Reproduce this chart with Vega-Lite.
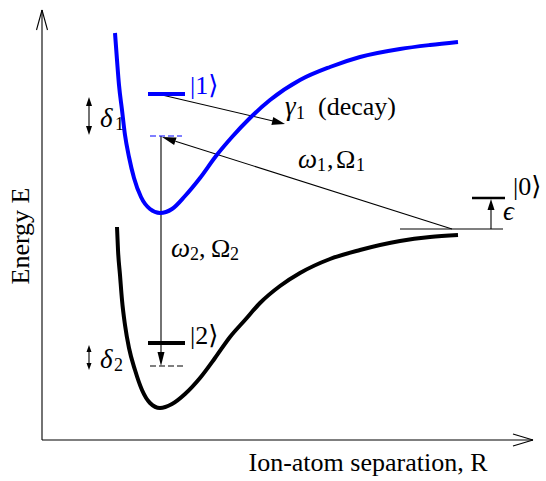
{
  "$schema": "https://vega.github.io/schema/vega-lite/v6.json",
  "width": 546,
  "height": 481,
  "autosize": {"type": "none"},
  "padding": 0,
  "background": "white",
  "config": {"view": {"stroke": null}, "text": {"font": "Liberation Serif, DejaVu Serif, serif", "color": "black"}},
  "datasets": {
    "lines": [
      {"part": "curve1", "id": "c1", "i": 0, "R": 73, "E": 407},
      {"part": "curve1", "id": "c1", "i": 1, "R": 75, "E": 380},
      {"part": "curve1", "id": "c1", "i": 2, "R": 77, "E": 355},
      {"part": "curve1", "id": "c1", "i": 3, "R": 80, "E": 330},
      {"part": "curve1", "id": "c1", "i": 4, "R": 83, "E": 305},
      {"part": "curve1", "id": "c1", "i": 5, "R": 87, "E": 283},
      {"part": "curve1", "id": "c1", "i": 6, "R": 92, "E": 262},
      {"part": "curve1", "id": "c1", "i": 7, "R": 99, "E": 243},
      {"part": "curve1", "id": "c1", "i": 8, "R": 108, "E": 231},
      {"part": "curve1", "id": "c1", "i": 9, "R": 118, "E": 227},
      {"part": "curve1", "id": "c1", "i": 10, "R": 130, "E": 231},
      {"part": "curve1", "id": "c1", "i": 11, "R": 143, "E": 244},
      {"part": "curve1", "id": "c1", "i": 12, "R": 158, "E": 262},
      {"part": "curve1", "id": "c1", "i": 13, "R": 174, "E": 284},
      {"part": "curve1", "id": "c1", "i": 14, "R": 190, "E": 303},
      {"part": "curve1", "id": "c1", "i": 15, "R": 208, "E": 322},
      {"part": "curve1", "id": "c1", "i": 16, "R": 228, "E": 340},
      {"part": "curve1", "id": "c1", "i": 17, "R": 258, "E": 360},
      {"part": "curve1", "id": "c1", "i": 18, "R": 288, "E": 373},
      {"part": "curve1", "id": "c1", "i": 19, "R": 318, "E": 383},
      {"part": "curve1", "id": "c1", "i": 20, "R": 358, "E": 391},
      {"part": "curve1", "id": "c1", "i": 21, "R": 388, "E": 395},
      {"part": "curve1", "id": "c1", "i": 22, "R": 416, "E": 398},
      {"part": "curve2", "id": "c2", "i": 0, "R": 75, "E": 213},
      {"part": "curve2", "id": "c2", "i": 1, "R": 76, "E": 190},
      {"part": "curve2", "id": "c2", "i": 2, "R": 78, "E": 165},
      {"part": "curve2", "id": "c2", "i": 3, "R": 80, "E": 140},
      {"part": "curve2", "id": "c2", "i": 4, "R": 83, "E": 115},
      {"part": "curve2", "id": "c2", "i": 5, "R": 87, "E": 92},
      {"part": "curve2", "id": "c2", "i": 6, "R": 93, "E": 70},
      {"part": "curve2", "id": "c2", "i": 7, "R": 100, "E": 50},
      {"part": "curve2", "id": "c2", "i": 8, "R": 108, "E": 37},
      {"part": "curve2", "id": "c2", "i": 9, "R": 118, "E": 32},
      {"part": "curve2", "id": "c2", "i": 10, "R": 130, "E": 36},
      {"part": "curve2", "id": "c2", "i": 11, "R": 143, "E": 46},
      {"part": "curve2", "id": "c2", "i": 12, "R": 158, "E": 62},
      {"part": "curve2", "id": "c2", "i": 13, "R": 173, "E": 82},
      {"part": "curve2", "id": "c2", "i": 14, "R": 188, "E": 103},
      {"part": "curve2", "id": "c2", "i": 15, "R": 203, "E": 120},
      {"part": "curve2", "id": "c2", "i": 16, "R": 218, "E": 137},
      {"part": "curve2", "id": "c2", "i": 17, "R": 238, "E": 154},
      {"part": "curve2", "id": "c2", "i": 18, "R": 258, "E": 167},
      {"part": "curve2", "id": "c2", "i": 19, "R": 288, "E": 181},
      {"part": "curve2", "id": "c2", "i": 20, "R": 318, "E": 190},
      {"part": "curve2", "id": "c2", "i": 21, "R": 358, "E": 199},
      {"part": "curve2", "id": "c2", "i": 22, "R": 388, "E": 203},
      {"part": "curve2", "id": "c2", "i": 23, "R": 416, "E": 205},
      {"part": "level1", "id": "l1", "i": 0, "R": 106, "E": 346},
      {"part": "level1", "id": "l1", "i": 1, "R": 143, "E": 346},
      {"part": "level2", "id": "l2", "i": 0, "R": 106, "E": 97},
      {"part": "level2", "id": "l2", "i": 1, "R": 143, "E": 97},
      {"part": "level0", "id": "l0", "i": 0, "R": 430, "E": 242},
      {"part": "level0", "id": "l0", "i": 1, "R": 463, "E": 242},
      {"part": "virtual1", "id": "v1", "i": 0, "R": 108, "E": 304},
      {"part": "virtual1", "id": "v1", "i": 1, "R": 140, "E": 304},
      {"part": "virtual2", "id": "v2", "i": 0, "R": 108, "E": 74},
      {"part": "virtual2", "id": "v2", "i": 1, "R": 141, "E": 74},
      {"part": "guide", "id": "axisY", "i": 0, "R": 0, "E": 0},
      {"part": "guide", "id": "axisY", "i": 1, "R": 0, "E": 430},
      {"part": "guide", "id": "axisYhL", "i": 0, "R": -5.5, "E": 410},
      {"part": "guide", "id": "axisYhL", "i": 1, "R": 0, "E": 430},
      {"part": "guide", "id": "axisYhR", "i": 0, "R": 0, "E": 430},
      {"part": "guide", "id": "axisYhR", "i": 1, "R": 5.5, "E": 410},
      {"part": "guide", "id": "axisX", "i": 0, "R": 0, "E": 0},
      {"part": "guide", "id": "axisX", "i": 1, "R": 491, "E": 0},
      {"part": "guide", "id": "axisXhU", "i": 0, "R": 471, "E": 6},
      {"part": "guide", "id": "axisXhU", "i": 1, "R": 491, "E": 0},
      {"part": "guide", "id": "axisXhD", "i": 0, "R": 471, "E": -6},
      {"part": "guide", "id": "axisXhD", "i": 1, "R": 491, "E": 0},
      {"part": "guide", "id": "w2", "i": 0, "R": 119, "E": 304},
      {"part": "guide", "id": "w2", "i": 1, "R": 119, "E": 87},
      {"part": "guide", "id": "decay", "i": 0, "R": 120, "E": 345},
      {"part": "guide", "id": "decay", "i": 1, "R": 231, "E": 319},
      {"part": "guide", "id": "excite", "i": 0, "R": 133.4, "E": 298.8},
      {"part": "guide", "id": "excite", "i": 1, "R": 410, "E": 211},
      {"part": "guide", "id": "base0", "i": 0, "R": 358, "E": 211},
      {"part": "guide", "id": "base0", "i": 1, "R": 461, "E": 211},
      {"part": "guide", "id": "eps", "i": 0, "R": 449, "E": 211},
      {"part": "guide", "id": "eps", "i": 1, "R": 449, "E": 231},
      {"part": "guide", "id": "d1", "i": 0, "R": 47, "E": 335},
      {"part": "guide", "id": "d1", "i": 1, "R": 47, "E": 313},
      {"part": "guide", "id": "d2", "i": 0, "R": 47, "E": 89},
      {"part": "guide", "id": "d2", "i": 1, "R": 47, "E": 76}
    ],
    "heads": [
      {"id": "w2", "R": 115.5, "E": 88, "E2": 88},
      {"id": "w2", "R": 119, "E": 74, "E2": 88},
      {"id": "w2", "R": 122.5, "E": 88, "E2": 88},
      {"id": "decay", "R": 229.4, "E": 315.1, "E2": 315.1},
      {"id": "decay", "R": 231.3, "E": 315.2, "E2": 322.9},
      {"id": "decay", "R": 243, "E": 316, "E2": 316},
      {"id": "excite", "R": 120, "E": 303, "E2": 303},
      {"id": "excite", "R": 132.1, "E": 295, "E2": 302.6},
      {"id": "excite", "R": 134.6, "E": 302.6, "E2": 302.6},
      {"id": "eps", "R": 445.5, "E": 230, "E2": 230},
      {"id": "eps", "R": 449, "E": 241, "E2": 230},
      {"id": "eps", "R": 452.5, "E": 230, "E2": 230},
      {"id": "d1t", "R": 44, "E": 334, "E2": 334},
      {"id": "d1t", "R": 47, "E": 343, "E2": 334},
      {"id": "d1t", "R": 50, "E": 334, "E2": 334},
      {"id": "d1b", "R": 44, "E": 314, "E2": 314},
      {"id": "d1b", "R": 47, "E": 305, "E2": 314},
      {"id": "d1b", "R": 50, "E": 314, "E2": 314},
      {"id": "d2t", "R": 44.5, "E": 88, "E2": 88},
      {"id": "d2t", "R": 47, "E": 95, "E2": 88},
      {"id": "d2t", "R": 49.5, "E": 88, "E2": 88},
      {"id": "d2b", "R": 44.5, "E": 77, "E2": 77},
      {"id": "d2b", "R": 47, "E": 70, "E2": 77},
      {"id": "d2b", "R": 49.5, "E": 77, "E2": 77}
    ],
    "labels": [
      {"role": "italic", "t": "δ", "R": 58, "E": 313},
      {"role": "italic", "t": "δ", "R": 58, "E": 72},
      {"role": "italic", "t": "γ", "R": 243, "E": 325},
      {"role": "italic", "t": "ω", "R": 256, "E": 272},
      {"role": "italic", "t": "ω", "R": 129, "E": 183},
      {"role": "italic", "t": "ϵ", "R": 461, "E": 220},
      {"role": "roman", "t": "(decay)", "R": 276, "E": 325},
      {"role": "roman", "t": ",", "R": 285, "E": 272},
      {"role": "roman", "t": "Ω", "R": 294, "E": 272},
      {"role": "roman", "t": ",", "R": 157, "E": 183},
      {"role": "roman", "t": "Ω", "R": 169, "E": 183},
      {"role": "sub", "t": "1", "R": 73, "E": 310},
      {"role": "sub", "t": "2", "R": 72, "E": 69},
      {"role": "sub", "t": "1", "R": 254, "E": 321},
      {"role": "sub", "t": "1", "R": 275, "E": 269},
      {"role": "sub", "t": "1", "R": 314, "E": 269},
      {"role": "sub", "t": "2", "R": 148, "E": 180},
      {"role": "sub", "t": "2", "R": 188, "E": 180},
      {"role": "ket1", "t": "|1⟩", "R": 148, "E": 346},
      {"role": "ket", "t": "|2⟩", "R": 148, "E": 96},
      {"role": "ket", "t": "|0⟩", "R": 471, "E": 245},
      {"role": "xtitle", "t": "Ion-atom separation, R", "R": 326, "E": -23},
      {"role": "ytitle", "t": "Energy E", "R": -21, "E": 204}
    ]
  },
  "encoding": {
    "x": {"field": "R", "type": "quantitative", "scale": {"domain": [-42, 504], "nice": false, "zero": false}, "axis": null},
    "y": {"field": "E", "type": "quantitative", "scale": {"domain": [-41, 440], "nice": false, "zero": false}, "axis": null}
  },
  "layer": [
    {
      "data": {"name": "lines"},
      "transform": [{"filter": "datum.part === 'guide'"}],
      "mark": {"type": "line", "color": "black", "strokeWidth": 1.1, "interpolate": "linear"},
      "encoding": {"detail": {"field": "id"}, "order": {"field": "i"}}
    },
    {
      "data": {"name": "lines"},
      "transform": [{"filter": "datum.part === 'virtual1'"}],
      "mark": {"type": "line", "color": "#0000ff", "strokeWidth": 1.1, "strokeDash": [6, 3]},
      "encoding": {"order": {"field": "i"}}
    },
    {
      "data": {"name": "lines"},
      "transform": [{"filter": "datum.part === 'virtual2'"}],
      "mark": {"type": "line", "color": "black", "strokeWidth": 1.1, "strokeDash": [6, 3]},
      "encoding": {"order": {"field": "i"}}
    },
    {
      "data": {"name": "lines"},
      "transform": [{"filter": "datum.part === 'curve1'"}],
      "mark": {"type": "line", "color": "#0000ff", "strokeWidth": 4, "interpolate": "monotone"},
      "encoding": {"order": {"field": "i"}}
    },
    {
      "data": {"name": "lines"},
      "transform": [{"filter": "datum.part === 'curve2'"}],
      "mark": {"type": "line", "color": "black", "strokeWidth": 4, "interpolate": "monotone"},
      "encoding": {"order": {"field": "i"}}
    },
    {
      "data": {"name": "lines"},
      "transform": [{"filter": "datum.part === 'level1'"}],
      "mark": {"type": "line", "color": "#0000ff", "strokeWidth": 4, "strokeCap": "butt"},
      "encoding": {"order": {"field": "i"}}
    },
    {
      "data": {"name": "lines"},
      "transform": [{"filter": "datum.part === 'level2'"}],
      "mark": {"type": "line", "color": "black", "strokeWidth": 4, "strokeCap": "butt"},
      "encoding": {"order": {"field": "i"}}
    },
    {
      "data": {"name": "lines"},
      "transform": [{"filter": "datum.part === 'level0'"}],
      "mark": {"type": "line", "color": "black", "strokeWidth": 2.5, "strokeCap": "butt"},
      "encoding": {"order": {"field": "i"}}
    },
    {
      "data": {"name": "heads"},
      "mark": {"type": "area", "color": "black", "interpolate": "linear"},
      "encoding": {"detail": {"field": "id"}, "y2": {"field": "E2"}}
    },
    {
      "data": {"name": "labels"},
      "transform": [{"filter": "datum.role === 'italic'"}],
      "mark": {"type": "text", "fontSize": 27, "fontStyle": "italic", "align": "left", "baseline": "alphabetic"},
      "encoding": {"text": {"field": "t"}}
    },
    {
      "data": {"name": "labels"},
      "transform": [{"filter": "datum.role === 'roman'"}],
      "mark": {"type": "text", "fontSize": 26, "align": "left", "baseline": "alphabetic"},
      "encoding": {"text": {"field": "t"}}
    },
    {
      "data": {"name": "labels"},
      "transform": [{"filter": "datum.role === 'sub'"}],
      "mark": {"type": "text", "fontSize": 18, "align": "left", "baseline": "alphabetic"},
      "encoding": {"text": {"field": "t"}}
    },
    {
      "data": {"name": "labels"},
      "transform": [{"filter": "datum.role === 'ket'"}],
      "mark": {"type": "text", "fontSize": 26, "align": "left", "baseline": "alphabetic"},
      "encoding": {"text": {"field": "t"}}
    },
    {
      "data": {"name": "labels"},
      "transform": [{"filter": "datum.role === 'ket1'"}],
      "mark": {"type": "text", "fontSize": 26, "align": "left", "baseline": "alphabetic", "color": "#0000ff"},
      "encoding": {"text": {"field": "t"}}
    },
    {
      "data": {"name": "labels"},
      "transform": [{"filter": "datum.role === 'xtitle'"}],
      "mark": {"type": "text", "fontSize": 26, "align": "center", "baseline": "middle"},
      "encoding": {"text": {"field": "t"}}
    },
    {
      "data": {"name": "labels"},
      "transform": [{"filter": "datum.role === 'ytitle'"}],
      "mark": {"type": "text", "fontSize": 26, "align": "center", "baseline": "middle", "angle": 270},
      "encoding": {"text": {"field": "t"}}
    }
  ]
}
